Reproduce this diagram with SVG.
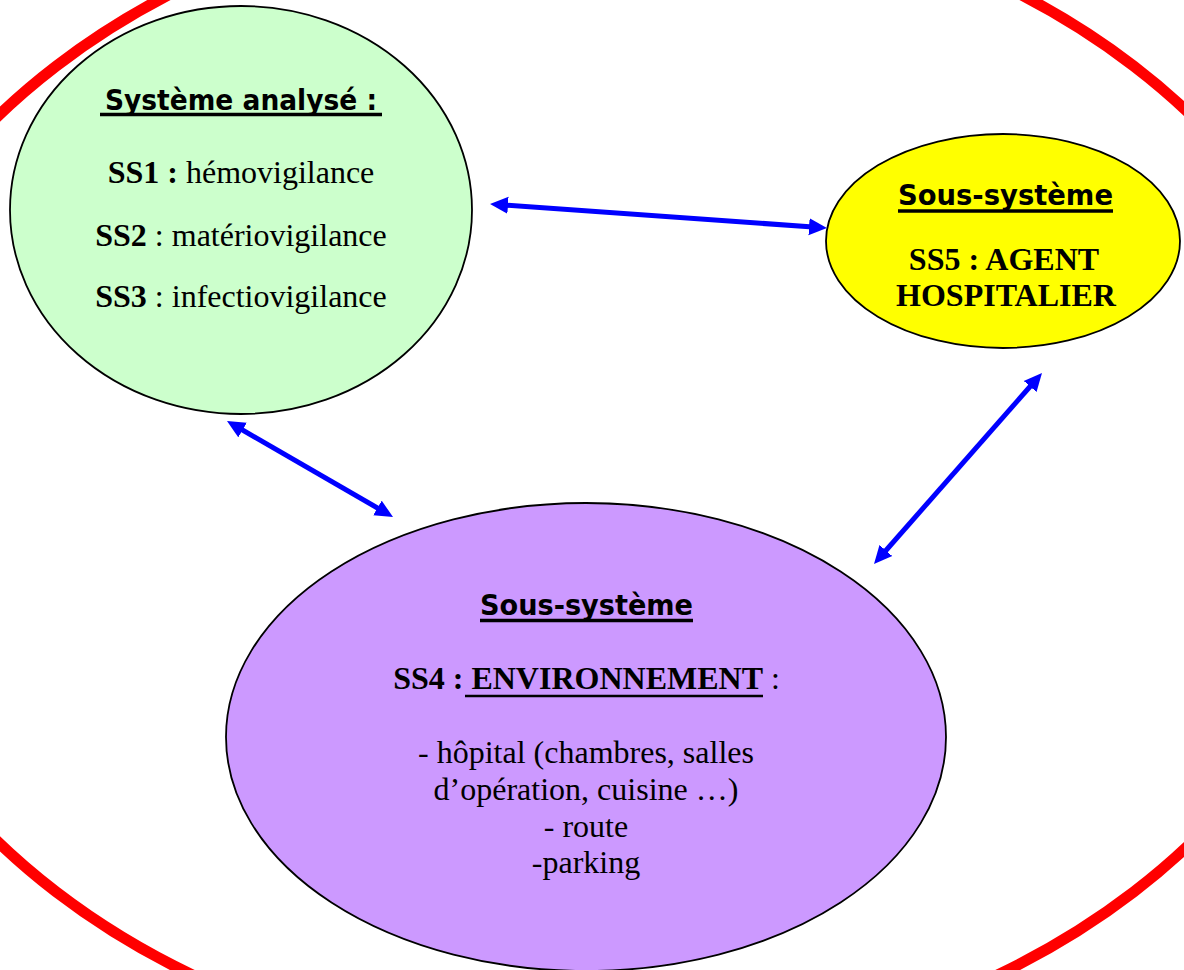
<svg xmlns="http://www.w3.org/2000/svg" width="1184" height="970" viewBox="0 0 1184 970">
  <style>
    .node { stroke: #000000; stroke-width: 1.8; }
    .serif { font-family: "Liberation Serif", "Times New Roman", serif; font-size: 32px; fill: #000000; }
    .head { font-family: "Comic Sans MS", "DejaVu Sans", sans-serif; font-weight: bold; fill: #000000; }
    .b { font-weight: bold; }
    .ul { stroke: #000000; }
    .link { fill: none; stroke: #0000FF; stroke-width: 5; marker-start: url(#tip); marker-end: url(#tip); }
  </style>
  <defs>
    <marker id="tip" markerUnits="userSpaceOnUse" markerWidth="18" markerHeight="18" viewBox="0 0 18 18" refX="4" refY="9" orient="auto-start-reverse">
      <path d="M0,0.5 L18,9 L0,17.5 z" fill="#0000FF"/>
    </marker>
  </defs>

  <rect width="1184" height="970" fill="#FFFFFF"/>

  <!-- outer boundary of the whole system -->
  <ellipse cx="595" cy="479" rx="762" ry="584" fill="none" stroke="#FF0000" stroke-width="11"/>

  <!-- analysed system: SS1..SS3 -->
  <g id="systeme-analyse">
    <ellipse class="node" cx="241" cy="210" rx="231" ry="204" fill="#CCFFCC"/>
    <text class="head" x="241" y="110" font-size="28" text-anchor="middle" textLength="272" lengthAdjust="spacingAndGlyphs">Système analysé :</text>
    <line class="ul" x1="100" y1="114.5" x2="382" y2="114.5" stroke-width="3.5"/>
    <text class="serif" x="241" y="183" text-anchor="middle"><tspan class="b">SS1 :</tspan> hémovigilance</text>
    <text class="serif" x="241" y="246" text-anchor="middle"><tspan class="b">SS2</tspan> : matériovigilance</text>
    <text class="serif" x="241" y="307" text-anchor="middle"><tspan class="b">SS3</tspan> : infectiovigilance</text>
  </g>

  <!-- sub-system SS5 -->
  <g id="ss5-agent">
    <ellipse class="node" cx="1003" cy="241" rx="177" ry="107" fill="#FFFF00"/>
    <text class="head" x="1005.5" y="205" font-size="28" text-anchor="middle" textLength="215" lengthAdjust="spacingAndGlyphs">Sous-système</text>
    <line class="ul" x1="898" y1="211" x2="1113" y2="211" stroke-width="3.5"/>
    <text class="serif b" x="1004" y="270" text-anchor="middle">SS5 : AGENT</text>
    <text class="serif b" x="1006" y="306" text-anchor="middle">HOSPITALIER</text>
  </g>

  <!-- sub-system SS4 -->
  <g id="ss4-environnement">
    <ellipse class="node" cx="586" cy="737" rx="360" ry="234" fill="#CC99FF"/>
    <text class="head" x="586.5" y="615" font-size="28" text-anchor="middle" textLength="213" lengthAdjust="spacingAndGlyphs">Sous-système</text>
    <line class="ul" x1="480" y1="620.5" x2="693" y2="620.5" stroke-width="3.5"/>
    <text class="serif" x="586.5" y="689" text-anchor="middle"><tspan class="b">SS4 : ENVIRONNEMENT</tspan> :</text>
    <line class="ul" x1="465" y1="696" x2="763" y2="696" stroke-width="2.5"/>
    <text class="serif" x="586" y="763" text-anchor="middle">- hôpital (chambres, salles</text>
    <text class="serif" x="586" y="800" text-anchor="middle">d’opération, cuisine …)</text>
    <text class="serif" x="586" y="837" text-anchor="middle">- route</text>
    <text class="serif" x="586" y="873" text-anchor="middle">-parking</text>
  </g>

  <!-- two-way interactions -->
  <g id="connectors">
    <path class="link" d="M504,205 L813,227"/>
    <path class="link" d="M239.1,428 L380.9,510"/>
    <path class="link" d="M1032.75,383.5 L883.25,553.5"/>
  </g>
</svg>
